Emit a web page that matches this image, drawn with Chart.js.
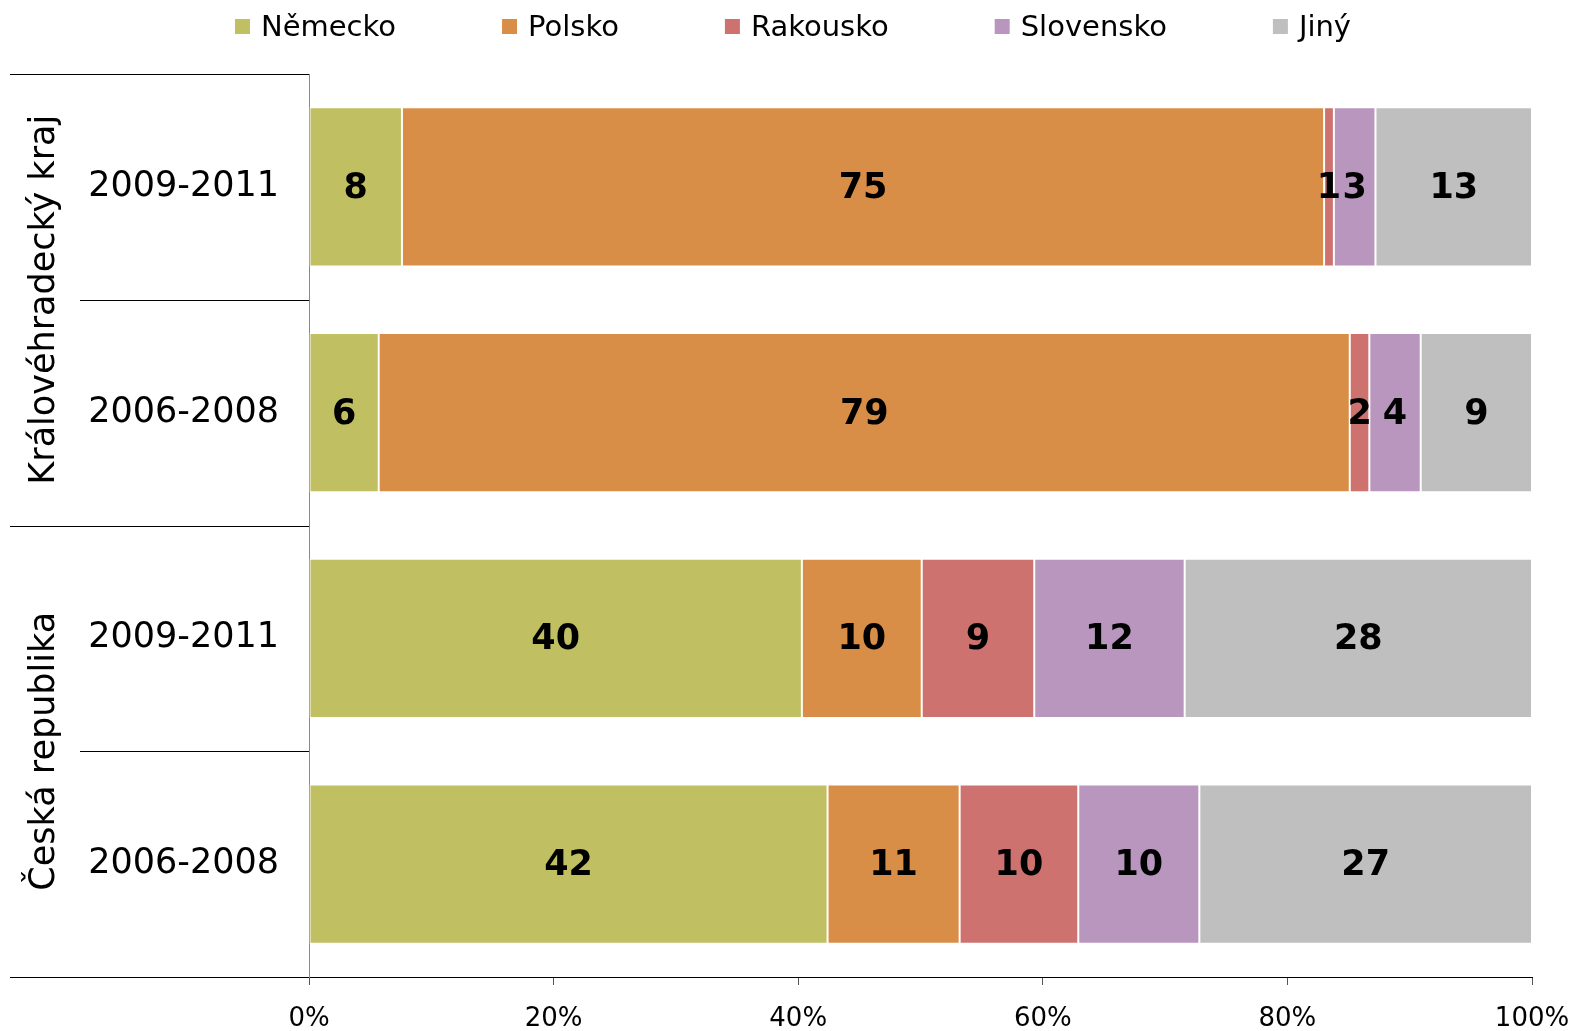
<!DOCTYPE html>
<html>
<head>
<meta charset="utf-8">
<script src="https://cdn.jsdelivr.net/npm/chart.js@4.4.1/dist/chart.umd.min.js"></script>
<style>
 html, body { margin: 0; padding: 0; background: #fff; }
 #wrap { width: 1576px; height: 1031px; }
</style>
</head>
<body>
<div id="wrap"><canvas id="chart"></canvas></div>
<script>
const periods = ["2009-2011", "2006-2008", "2009-2011", "2006-2008"];
const regions = ["Královéhradecký kraj", "Česká republika"];
const nemecko = [7.6, 5.7, 40.3, 42.4];
const polsko = [75.4, 79.4, 9.8, 10.8];
const rakousko = [0.8, 1.6, 9.2, 9.7];
const slovensko = [3.4, 4.2, 12.3, 9.9];
const jiny = [12.8, 9.1, 28.4, 27.2];
const xTicks = [0, 20, 40, 60, 80, 100];

const FONT = "'DejaVu Sans', Verdana, sans-serif";

// group separators + rotated region names on the left
const groupPlugin = {
 id: "groups",
 afterDraw(chart) {
  const { ctx, chartArea, scales } = chart;
  const y = scales.y;
  const step = y.getPixelForValue(1) - y.getPixelForValue(0);
  ctx.save();
  ctx.strokeStyle = "#000";
  ctx.lineWidth = 1;
  for (let i = 0; i <= periods.length; i++) {
   const yy = Math.round(y.getPixelForValue(i) - step / 2) + 0.5;
   const x0 = i % 2 === 0 ? 10 : 80;
   ctx.beginPath();
   ctx.moveTo(x0, yy);
   ctx.lineTo(chartArea.left, yy);
   ctx.stroke();
  }
  ctx.fillStyle = "#000";
  ctx.font = `35px ${FONT}`;
  ctx.textAlign = "center";
  ctx.textBaseline = "alphabetic";
  regions.forEach((name, g) => {
   const cy = (y.getPixelForValue(2 * g) + y.getPixelForValue(2 * g + 1)) / 2;
   ctx.save();
   ctx.translate(54, cy);
   ctx.rotate(-Math.PI / 2);
   ctx.fillText(name, 0, 0);
   ctx.restore();
  });
  ctx.restore();
 },
};

// rounded values in the middle of each segment
const valuePlugin = {
 id: "values",
 afterDatasetsDraw(chart) {
  const { ctx } = chart;
  ctx.save();
  ctx.font = `bold 35px ${FONT}`;
  ctx.fillStyle = "#000";
  ctx.textAlign = "center";
  ctx.textBaseline = "middle";
  chart.data.datasets.forEach((ds, i) => {
   chart.getDatasetMeta(i).data.forEach((bar, j) => {
    ctx.fillText(String(Math.round(ds.data[j])), (bar.x + bar.base) / 2, bar.y + 2);
   });
  });
  ctx.restore();
 },
};

// legend row at the top
const legendPlugin = {
 id: "topLegend",
 afterDraw(chart) {
  const { ctx } = chart;
  ctx.save();
  ctx.font = `29px ${FONT}`;
  ctx.textBaseline = "middle";
  const box = 15, gapText = 11, gap = 106;
  const items = chart.data.datasets.map((ds) => ({
   label: ds.label,
   color: ds.backgroundColor,
   w: box + gapText + ctx.measureText(ds.label).width,
  }));
  const total = items.reduce((s, it) => s + it.w, 0) + gap * (items.length - 1);
  let x = chart.width / 2 + 5 - total / 2;
  items.forEach((it) => {
   ctx.fillStyle = it.color;
   ctx.fillRect(x, 19, box, box);
   ctx.fillStyle = "#000";
   ctx.fillText(it.label, x + box + gapText, 28);
   x += it.w + gap;
  });
  ctx.restore();
 },
};

const noPad = (scale) => {
 scale.paddingLeft = 0;
 scale.paddingRight = 0;
 scale.paddingTop = 0;
 scale.paddingBottom = 0;
};

const mk = (label, data, color) => ({
 label,
 data,
 backgroundColor: color,
 borderColor: "#fff",
 borderWidth: 1,
 borderSkipped: false,
 barPercentage: 0.705,
 categoryPercentage: 1,
});

new Chart(document.getElementById("chart"), {
 type: "bar",
 data: {
  labels: periods,
  datasets: [
   mk("Německo", nemecko, "#C0BF62"),
   mk("Polsko", polsko, "#D98E48"),
   mk("Rakousko", rakousko, "#CD726E"),
   mk("Slovensko", slovensko, "#B896BE"),
   mk("Jiný", jiny, "#BFBFBF"),
  ],
 },
 options: {
  indexAxis: "y",
  responsive: true,
  maintainAspectRatio: false,
  animation: false,
  devicePixelRatio: 1,
  layout: { padding: { top: 74, right: 44, left: 0, bottom: 0 } },
  plugins: { legend: { display: false }, tooltip: { enabled: false } },
  scales: {
   x: {
    stacked: true,
    min: 0,
    max: 100,
    afterBuildTicks: (scale) => { scale.ticks = xTicks.map((v) => ({ value: v })); },
    afterFit: (scale) => { scale.height = 54; noPad(scale); },
    ticks: { callback: (v) => v + "%", color: "#000", font: { family: FONT, size: 26 }, padding: 19, maxRotation: 0 },
    grid: { drawOnChartArea: false, drawTicks: true, tickLength: 8, color: "#555" },
    border: { color: "#000", width: 1 },
   },
   y: {
    stacked: true,
    afterFit: (scale) => { scale.width = 309; noPad(scale); },
    ticks: { color: "#000", font: { family: FONT, size: 35 }, padding: 30 },
    grid: { drawOnChartArea: false, drawTicks: false },
    border: { color: "#888", width: 1 },
   },
  },
 },
 plugins: [groupPlugin, valuePlugin, legendPlugin],
});
</script>
</body>
</html>
